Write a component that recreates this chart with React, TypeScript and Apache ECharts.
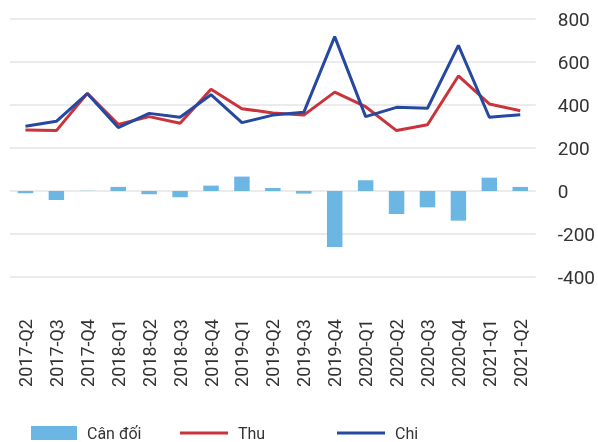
import React, { useEffect, useRef } from "react";
import * as echarts from "echarts";

const categories = [
  "2017-Q2", "2017-Q3", "2017-Q4", "2018-Q1", "2018-Q2", "2018-Q3", "2018-Q4",
  "2019-Q1", "2019-Q2", "2019-Q3", "2019-Q4", "2020-Q1", "2020-Q2", "2020-Q3",
  "2020-Q4", "2021-Q1", "2021-Q2",
];
const canDoi = [-11, -42, 1, 19, -15, -29, 25, 67, 14, -12, -260, 50, -107, -76, -138, 62, 19];
const thu = [284, 281, 454, 310, 346, 315, 473, 383, 363, 353, 460, 392, 281, 308, 535, 405, 373];
const chi = [301, 324, 453, 295, 361, 343, 448, 318, 353, 366, 718, 346, 389, 385, 677, 343, 355];

const FONT = "Roboto";

export default function App() {
  const ref = useRef<HTMLDivElement>(null);
  useEffect(() => {
    if (!ref.current) return;
    const chart = echarts.init(ref.current, undefined, { renderer: "svg" });
    const legendText = { fontFamily: FONT, fontSize: 16, color: "#333", padding: [0, 0, 0, 5] };
    chart.setOption({
      animation: false,
      textStyle: { fontFamily: FONT },
      grid: { left: 10, right: 60, top: 19, bottom: 165, containLabel: false },
      legend: [
        { data: [{ name: "Cân đối", icon: "rect" }], left: 31, top: 425, padding: 0, itemWidth: 46, itemHeight: 14, textStyle: legendText },
        { data: [{ name: "Thu", icon: "rect" }], left: 180, top: 425, padding: 0, itemWidth: 48, itemHeight: 3, textStyle: legendText },
        { data: [{ name: "Chi", icon: "rect" }], left: 337, top: 425, padding: 0, itemWidth: 48, itemHeight: 3, textStyle: legendText },
      ],
      xAxis: {
        type: "category",
        data: categories,
        boundaryGap: true,
        axisLine: { show: false },
        axisTick: { show: false },
        axisLabel: { rotate: 90, margin: 42, fontFamily: FONT, fontSize: 18, color: "#333", interval: 0 },
      },
      yAxis: {
        type: "value",
        position: "right",
        min: -400,
        max: 800,
        interval: 200,
        axisLine: { show: false },
        axisTick: { show: false },
        axisLabel: { margin: 22, fontFamily: FONT, fontSize: 19, color: "#333", align: "left" },
        splitLine: { lineStyle: { color: "#e5e5e5", width: 1.5 } },
      },
      series: [
        {
          name: "Cân đối",
          type: "bar",
          data: canDoi,
          barWidth: "50%",
          itemStyle: { color: "#6bb6e3" },
        },
        {
          name: "Thu",
          type: "line",
          data: thu,
          symbol: "none",
          lineStyle: { color: "#c9333b", width: 3 },
          itemStyle: { color: "#c9333b" },
        },
        {
          name: "Chi",
          type: "line",
          data: chi,
          symbol: "none",
          lineStyle: { color: "#2548a0", width: 3 },
          itemStyle: { color: "#2548a0" },
        },
      ],
    });
    return () => chart.dispose();
  }, []);
  return <div ref={ref} style={{ width: 598, height: 442, position: "fixed", left: 0, top: 0 }} />;
}
